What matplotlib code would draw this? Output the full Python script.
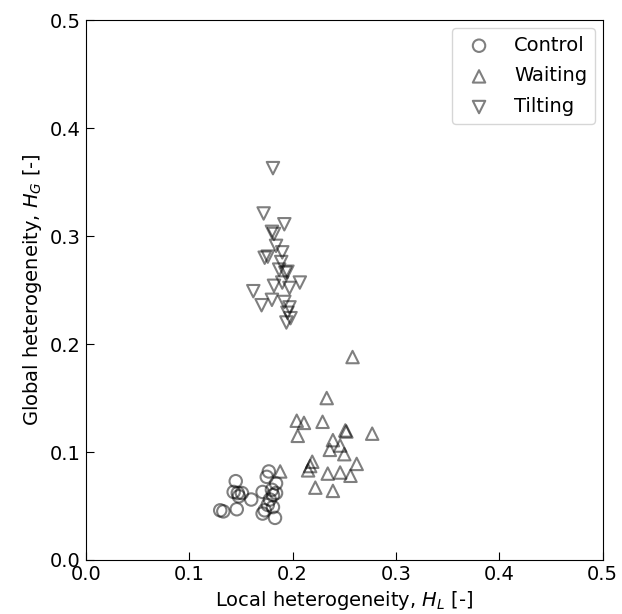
import numpy as np
import matplotlib
matplotlib.use("Agg")
import matplotlib.pyplot as plt

# Control
ctrl_x = [0.130, 0.133, 0.145, 0.143, 0.147, 0.151, 0.146, 0.160, 0.171, 0.177,
          0.175, 0.184, 0.180, 0.181, 0.178, 0.176, 0.173, 0.171, 0.183, 0.181,
          0.184, 0.148]
ctrl_y = [0.046, 0.045, 0.073, 0.063, 0.062, 0.062, 0.047, 0.056, 0.063, 0.082,
          0.077, 0.071, 0.065, 0.060, 0.056, 0.051, 0.046, 0.043, 0.039, 0.049,
          0.062, 0.059]

# Waiting
wait_x = [0.258, 0.233, 0.204, 0.211, 0.229, 0.205, 0.251, 0.252, 0.277, 0.239,
          0.246, 0.236, 0.250, 0.219, 0.217, 0.215, 0.262, 0.234, 0.246, 0.256,
          0.222, 0.239, 0.188]
wait_y = [0.188, 0.150, 0.129, 0.127, 0.128, 0.115, 0.120, 0.119, 0.117, 0.111,
          0.106, 0.102, 0.098, 0.091, 0.087, 0.083, 0.089, 0.080, 0.081, 0.078,
          0.067, 0.064, 0.082]

# Tilting
tilt_x = [0.181, 0.172, 0.192, 0.182, 0.180, 0.184, 0.190, 0.173, 0.176, 0.189,
          0.187, 0.193, 0.195, 0.207, 0.190, 0.182, 0.162, 0.197, 0.180, 0.170,
          0.192, 0.197, 0.195, 0.198, 0.194]
tilt_y = [0.363, 0.321, 0.311, 0.302, 0.304, 0.291, 0.285, 0.280, 0.281, 0.276,
          0.269, 0.266, 0.267, 0.257, 0.257, 0.254, 0.249, 0.252, 0.241, 0.236,
          0.239, 0.234, 0.229, 0.224, 0.220]

fig = plt.figure(figsize=(6.22, 6.14), dpi=100)
ax = fig.add_axes([0.138, 0.088, 0.831, 0.879])

style = dict(facecolor="none", edgecolors="k", alpha=0.5, linewidths=1.5, s=80)
ax.scatter(ctrl_x, ctrl_y, marker="o", label="Control", **style)
ax.scatter(wait_x, wait_y, marker="^", label="Waiting", **style)
ax.scatter(tilt_x, tilt_y, marker="v", label="Tilting", **style)

ax.set_xlim(0, 0.5)
ax.set_ylim(0, 0.5)
ax.set_xticks(np.arange(0, 0.51, 0.1))
ax.set_yticks(np.arange(0, 0.51, 0.1))
ax.tick_params(direction="in", labelsize=14, length=6)
ax.set_xlabel("Local heterogeneity, $H_L$ [-]", fontsize=14)
ax.set_ylabel("Global heterogeneity, $H_G$ [-]", fontsize=14)
ax.legend(loc="upper right", fontsize=14, borderaxespad=0.4, labelspacing=0.6)

fig.savefig("out.png", dpi=100)
